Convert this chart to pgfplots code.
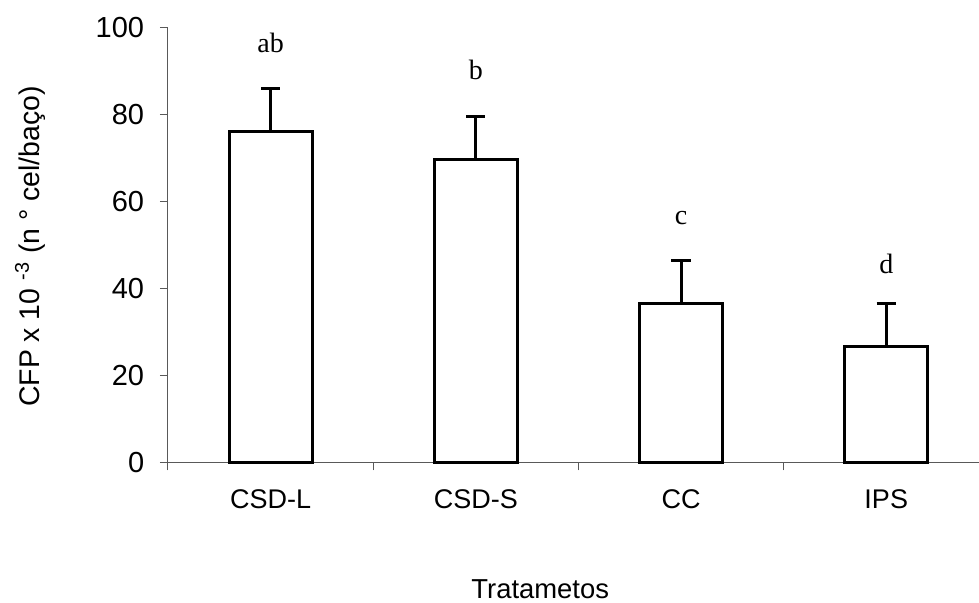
\documentclass[border=0pt]{standalone}
\usepackage{fontspec}
\setmainfont{Liberation Sans}
\newfontfamily\timesf{Liberation Serif}
\usepackage{pgfplots}
\pgfplotsset{compat=1.18}
\begin{document}
\begin{tikzpicture}
\useasboundingbox (-84pt,-69.85pt) rectangle (405.5pt,231.15pt);
\begin{axis}[
  at={(0,0)}, anchor=south west,
  scale only axis, width=405.5pt, height=217.5pt,
  xmin=-0.5, xmax=3.452, ymin=0, ymax=100,
  axis x line*=bottom, axis y line*=left,
  axis line style={black!65, line width=0.5pt, -},
  every tick/.style={black!65, line width=0.5pt},
  tick align=outside, major tick length=4pt, minor tick length=4pt,
  ytick={0,20,40,60,80,100},
  xtick={0,1,2,3},
  xticklabels={CSD-L,CSD-S,CC,IPS},
  major x tick style={draw=none},
  minor xtick={-0.5,0.5,1.5,2.5},
  /pgf/number format/assume math mode=true,
  yticklabel style={font=\fontsize{14.5}{17}\selectfont, xshift=-4.4pt},
  xticklabel style={font=\fontsize{13.5}{16}\selectfont, yshift=-6pt},
  ylabel={CFP x 10 \textsuperscript{-3} (n ° cel/baço)},
  ylabel style={font=\fontsize{14.2}{16}\selectfont, at={(axis description cs:-0.17,0.496)}, anchor=center, rotate=0},
  xlabel={Tratametos},
  xlabel style={font=\fontsize{13.7}{16}\selectfont, at={(axis description cs:0.459,0)}, anchor=base, yshift=-68pt},
  clip=false,
]
\addplot[ybar, bar width=41.5pt, fill=white, draw=black, line width=1.5pt,
  error bars/.cd, y dir=plus, y explicit,
  error mark=|,
  error bar style={line width=1.5pt, black},
  error mark options={line width=1.5pt, mark size=4.8pt, black}]
  coordinates {
  (0,76.0) +- (0,9.9)
  (1,69.5) +- (0,10.0)
  (2,36.4) +- (0,10.0)
  (3,26.6) +- (0,10.0)
  };
\node[anchor=base, font=\timesf\fontsize{14}{16}\selectfont] at (axis cs:0,94.3) {ab};
\node[anchor=base, font=\timesf\fontsize{14}{16}\selectfont] at (axis cs:1,88.0) {b};
\node[anchor=base, font=\timesf\fontsize{14}{16}\selectfont] at (axis cs:2,54.7) {c};
\node[anchor=base, font=\timesf\fontsize{14}{16}\selectfont] at (axis cs:3,43.4) {d};
\end{axis}
\end{tikzpicture}
\end{document}
